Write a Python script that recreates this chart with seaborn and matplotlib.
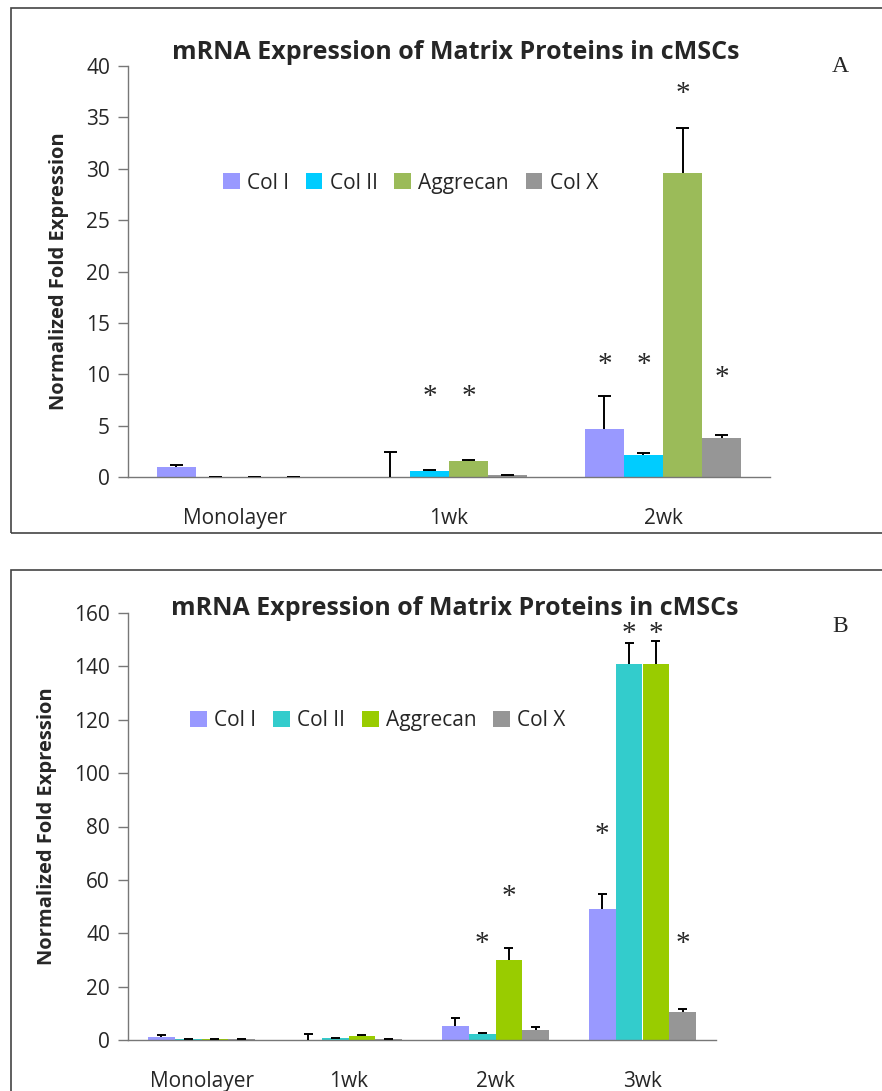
import numpy as np
import pandas as pd
import matplotlib.pyplot as plt
import seaborn as sns
from matplotlib.patches import Rectangle

# Panel A data
stages_a = ["Monolayer", "1wk", "2wk"]
genes = ["Col I", "Col II", "Aggrecan", "Col X"]
mean_a = {
    "Col I":    [1.0, 0.0, 4.7],
    "Col II":   [0.02, 0.55, 2.1],
    "Aggrecan": [0.02, 1.6, 29.6],
    "Col X":    [0.02, 0.15, 3.8],
}
err_a = {
    "Col I":    [0.15, 2.4, 3.2],
    "Col II":   [0.02, 0.15, 0.25],
    "Aggrecan": [0.02, 0.1, 4.4],
    "Col X":    [0.02, 0.05, 0.3],
}
star_y_a = {("Col II", "1wk"): 7.8, ("Aggrecan", "1wk"): 7.8, ("Col I", "2wk"): 10.9,
            ("Col II", "2wk"): 10.9, ("Aggrecan", "2wk"): 37.3, ("Col X", "2wk"): 9.6}
colors_a = ["#9999FF", "#00CCFF", "#9BBB59", "#969696"]

# Panel B data
stages_b = ["Monolayer", "1wk", "2wk", "3wk"]
mean_b = {
    "Col I":    [1.0, 0.0, 5.3, 49.0],
    "Col II":   [0.2, 0.6, 2.2, 141.0],
    "Aggrecan": [0.2, 1.6, 30.0, 141.0],
    "Col X":    [0.2, 0.2, 3.8, 10.5],
}
err_b = {
    "Col I":    [0.9, 2.4, 3.0, 5.8],
    "Col II":   [0.1, 0.2, 0.3, 7.6],
    "Aggrecan": [0.1, 0.2, 4.3, 8.4],
    "Col X":    [0.1, 0.1, 0.9, 1.2],
}
star_y_b = {("Col II", "2wk"): 36.0, ("Aggrecan", "2wk"): 53.5, ("Col I", "3wk"): 77.0,
            ("Col II", "3wk"): 152.0, ("Aggrecan", "3wk"): 152.0, ("Col X", "3wk"): 36.0}
colors_b = ["#9999FF", "#33CCCC", "#99CC00", "#969696"]

sns.set_style("white")
plt.rcParams['font.family'] = ['Open Sans', 'DejaVu Sans']

fig = plt.figure(figsize=(8.82, 10.91), dpi=100)

# panel frames
fig.patches.append(Rectangle((11 / 882, 1 - 533 / 1091), 1.0, 525 / 1091,
                             transform=fig.transFigure, fill=False, lw=1.2, ec="#444444"))
fig.patches.append(Rectangle((11 / 882, 1 - 1100 / 1091), 1.0, 530 / 1091,
                             transform=fig.transFigure, fill=False, lw=1.2, ec="#444444"))


def draw_panel(ax, stages, means, errs, stars, colors, ymax, ystep, title_pad):
    rows = []
    for g in genes:
        for s, v, e in zip(stages, means[g], errs[g]):
            rows.append({"Stage": s, "Gene": g, "Value": v, "Err": e})
    df = pd.DataFrame(rows)
    sns.barplot(data=df, x="Stage", y="Value", hue="Gene", order=stages, hue_order=genes,
                palette=colors, width=0.73, errorbar=None, saturation=1, ax=ax,
                linewidth=0, edgecolor="none")
    # upper-only error bars and stars, placed on the bars seaborn drew
    for gi, g in enumerate(genes):
        bars = ax.containers[gi]
        for si, s in enumerate(stages):
            p = bars[si]
            cx = p.get_x() + p.get_width() / 2
            v = means[g][si]
            top = v + errs[g][si]
            cap = p.get_width() * 0.17
            ax.vlines(cx, v, top, color="black", lw=1.4, zorder=3)
            ax.hlines(top, cx - cap, cx + cap, color="black", lw=1.4, zorder=3)
            if (g, s) in stars:
                ax.text(cx, stars[(g, s)], "*", ha="center", va="center",
                        fontsize=21, family="Liberation Serif")
    n = len(stages)
    ax.set_xlim(-0.5, n - 0.5)
    ax.set_ylim(0, ymax)
    ax.set_yticks(np.arange(0, ymax + 1, ystep))
    ax.set_xticks(range(n))
    ax.set_xticks(np.arange(-0.5, n, 1.0), minor=True)
    ax.tick_params(axis="x", which="major", length=0, labelsize=15, pad=22)
    ax.tick_params(axis="x", which="minor", length=8, width=1, color="#777777", direction="out")
    ax.tick_params(axis="y", length=7, width=1, color="#777777", direction="out",
                   labelsize=15, left=True, pad=6)
    ax.set_xlabel("")
    ax.set_ylabel("Normalized Fold Expression", fontsize=14.5, fontweight="bold", labelpad=12)
    for sp in ["top", "right"]:
        ax.spines[sp].set_visible(False)
    for sp in ["left", "bottom"]:
        ax.spines[sp].set_color("#777777")
        ax.spines[sp].set_linewidth(1)
    ax.set_title("mRNA Expression of Matrix Proteins in cMSCs", fontsize=18,
                 fontweight="bold", pad=title_pad)
    return ax


leg_kw = dict(loc="center", ncol=4, frameon=False, fontsize=15, handlelength=0.8,
              handleheight=0.8, handletextpad=0.35, columnspacing=0.8)

ax_a = fig.add_axes([128 / 882, 1 - 477 / 1091, 642 / 882, 411 / 1091])
draw_panel(ax_a, stages_a, mean_a, err_a, star_y_a, colors_a, 40, 5, 5)
ax_a.title.set_position((0.51, 1.0))
ax_a.legend(bbox_to_anchor=(0.44, 0.715), **leg_kw)
fig.text(840 / 882, 1 - 67 / 1091, "A", fontsize=17, family="Liberation Serif",
         ha="center", va="center")

ax_b = fig.add_axes([128 / 882, 1 - 1040 / 1091, 588 / 882, 427 / 1091])
draw_panel(ax_b, stages_b, mean_b, err_b, star_y_b, colors_b, 160, 20, -1.5)
ax_b.title.set_position((0.555, 1.0))
ax_b.legend(bbox_to_anchor=(0.425, 0.748), **leg_kw)
fig.text(840 / 882, 1 - 627 / 1091, "B", fontsize=17, family="Liberation Serif",
         ha="center", va="center")

plt.savefig("out.png", dpi=100)
